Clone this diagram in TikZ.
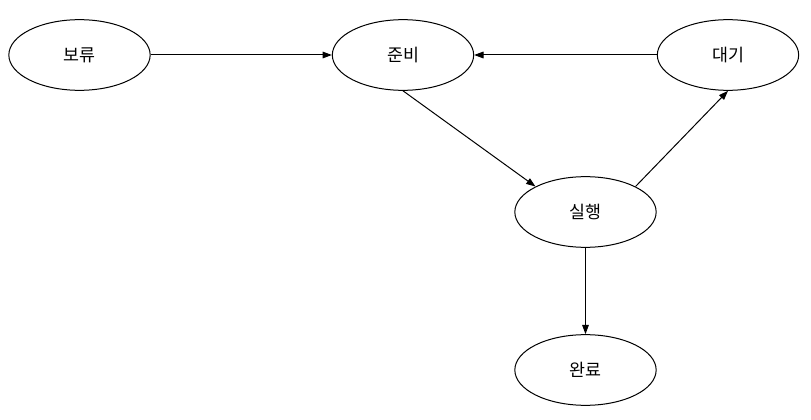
\documentclass[tikz,border=0pt]{standalone}
\usepackage{fontspec}
\setmainfont{Noto Sans CJK KR}
\usetikzlibrary{arrows.meta,shapes.geometric,positioning}

\begin{document}
\begin{tikzpicture}[x=0.75pt,y=-0.75pt,>={Triangle[length=7pt,width=5pt]},
  state/.style={ellipse,draw,line width=0.75pt,minimum width=106pt,minimum height=53pt,inner sep=0pt,font=\fontsize{13}{15}\selectfont},
  flow/.style={->,line width=0.75pt}]
\useasboundingbox (0,0) rectangle (811,420);
% states
\node[state] (boryu) at (79.5,55) {보류};
\node[state] (junbi) at (403,55) {준비};
\node[state] (daegi) at (728,55) {대기};
\node[state] (silhaeng) at (585.5,212) {실행};
\node[state] (wanryo) at (585.5,370) {완료};
% transitions
\draw[flow] (boryu) -- (junbi);
\draw[flow] (daegi) -- (junbi);
\draw[flow] (junbi.south) -- (silhaeng.153);
\draw[flow] (silhaeng.27) -- (daegi.south);
\draw[flow] (silhaeng) -- (wanryo);
\end{tikzpicture}
\end{document}
